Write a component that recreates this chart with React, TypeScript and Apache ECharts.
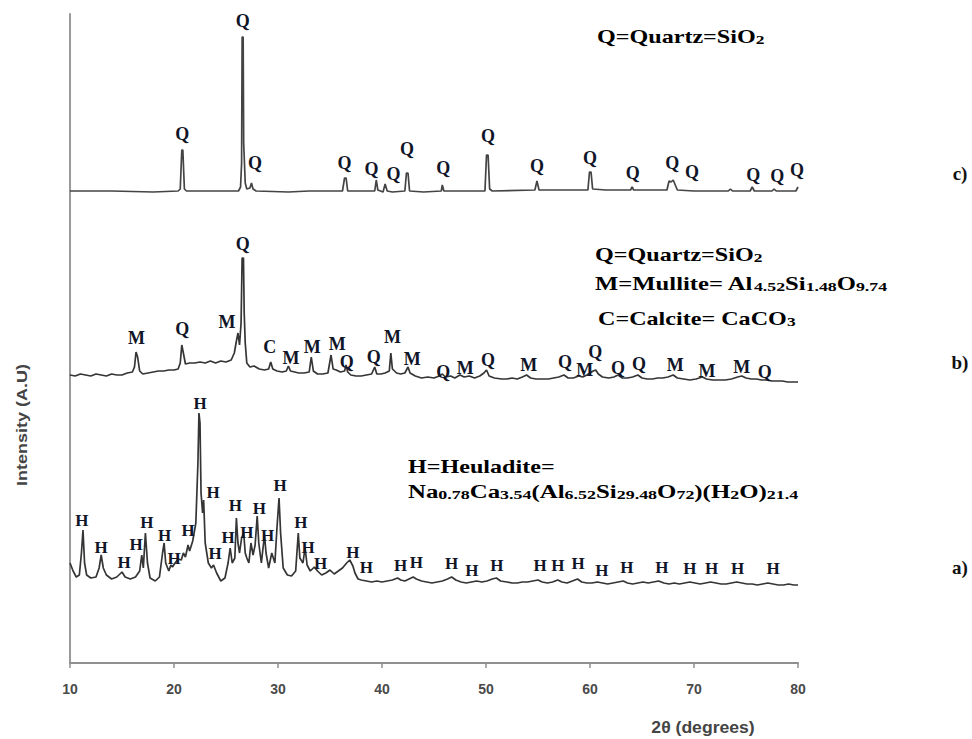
import React, { useEffect, useRef } from "react";
import * as echarts from "echarts";

// ---- data: 2θ (degrees) vs intensity (A.U., stacked with offsets as in the figure) ----
const xTicks = [10, 20, 30, 40, 50, 60, 70, 80];

// c) quartz reference pattern
const traceC: [number, number][] = [
  [10, 472], [14, 472], [18, 471], [20.4, 472], [20.6, 474], [20.75, 513], [20.85, 513], [21.0, 474], [21.2, 472],
  [24, 472], [26.2, 472], [26.4, 476], [26.5, 500], [26.55, 626], [26.65, 626], [26.7, 520], [26.85, 480], [27.0, 474],
  [27.3, 475], [27.45, 480], [27.6, 474], [27.9, 472], [31, 471], [33, 472], [36.2, 472], [36.4, 485], [36.55, 485],
  [36.7, 472], [39.3, 472], [39.45, 483], [39.6, 473], [40.1, 471], [40.3, 479], [40.5, 472], [41, 471], [42.2, 472],
  [42.35, 490], [42.5, 490], [42.65, 472], [44, 471], [45.7, 472], [45.8, 478], [45.95, 472], [48, 472], [49.9, 472],
  [50.05, 508], [50.2, 508], [50.35, 474], [50.6, 472], [54.7, 473], [54.9, 482], [55.1, 473], [56, 473], [59.8, 473],
  [59.95, 491], [60.1, 491], [60.25, 474], [61.5, 473], [63.9, 473], [64.05, 476], [64.2, 473], [67.4, 473],
  [67.6, 482], [67.8, 481], [68.0, 483], [68.2, 478], [68.4, 473], [70, 472], [73.3, 472], [73.5, 474], [73.7, 472],
  [75.4, 472], [75.6, 476], [75.8, 472], [77.5, 472], [77.7, 474], [77.9, 472], [79.8, 472], [80, 476],
];

// b) calcined sample
const traceB: [number, number][] = [
  [10, 288], [10.5, 287], [11, 289], [11.5, 288], [12, 287], [12.5, 289], [13, 288], [13.5, 287], [14, 289], [14.5, 288],
  [15, 288], [15.5, 290], [16.0, 291], [16.2, 296], [16.35, 311], [16.5, 306], [16.7, 292], [17.0, 289], [17.5, 290],
  [18, 291], [18.5, 292], [19, 292], [19.5, 293], [20, 293], [20.4, 294], [20.6, 300], [20.75, 318], [20.9, 310],
  [21.1, 299], [21.5, 300], [22, 300], [22.5, 301], [23, 300], [23.5, 302], [24, 300], [24.5, 302], [25, 301],
  [25.5, 303], [25.8, 310], [26.0, 322], [26.15, 330], [26.3, 318], [26.45, 340], [26.55, 405], [26.68, 405],
  [26.75, 350], [26.85, 320], [27.0, 300], [27.3, 296], [27.7, 297], [28.2, 294], [28.7, 293], [29.1, 294],
  [29.3, 301], [29.5, 294], [29.9, 292], [30.4, 291], [30.8, 292], [31.0, 297], [31.2, 292], [31.6, 291], [32.0, 290],
  [32.5, 290], [33.0, 291], [33.2, 306], [33.4, 292], [33.8, 289], [34.3, 289], [34.8, 290], [35.1, 308], [35.3, 294],
  [35.6, 293], [36.0, 291], [36.4, 292], [36.55, 298], [36.7, 291], [37.0, 288], [37.5, 287], [38.0, 287], [38.5, 288],
  [39.0, 289], [39.3, 296], [39.5, 289], [39.9, 289], [40.3, 290], [40.7, 292], [40.85, 310], [41.0, 294], [41.4, 290],
  [41.8, 289], [42.2, 290], [42.5, 296], [42.7, 290], [43.2, 287], [43.8, 285], [44.4, 286], [45.0, 285], [45.5, 287],
  [45.8, 289], [46.1, 286], [46.6, 287], [47.0, 285], [47.5, 288], [47.9, 286], [48.4, 287], [48.9, 285], [49.4, 287],
  [49.8, 290], [50.05, 293], [50.3, 287], [50.8, 285], [51.5, 284], [52, 284], [52.5, 285], [53, 284], [53.5, 286],
  [53.9, 288], [54.3, 285], [54.8, 284], [55.5, 284], [56, 284], [56.5, 285], [57, 286], [57.5, 288], [57.9, 285],
  [58.4, 285], [58.9, 287], [59.3, 286], [59.7, 288], [60.0, 290], [60.3, 292], [60.55, 293], [60.8, 289], [61.2, 286],
  [61.8, 285], [62.3, 286], [62.7, 288], [63.1, 285], [63.6, 285], [64.1, 286], [64.6, 288], [65.0, 285], [65.5, 284],
  [66, 284], [66.5, 285], [67, 285], [67.5, 286], [68.0, 288], [68.4, 285], [69, 284], [69.6, 283], [70.2, 284],
  [70.8, 286], [71.2, 284], [71.8, 283], [72.5, 283], [73, 283], [73.6, 284], [74.2, 286], [74.6, 287], [75.0, 285],
  [75.5, 284], [76.0, 284], [76.5, 283], [77, 283], [77.5, 282], [78, 282], [78.5, 282], [79, 281], [79.5, 281], [80, 281],
];

// a) natural zeolite (heulandite)
const traceA: [number, number][] = [
  [10, 100], [10.3, 92], [10.6, 86], [10.9, 88], [11.1, 110], [11.25, 133], [11.4, 100], [11.6, 88], [12, 85],
  [12.5, 86], [12.8, 95], [13.0, 108], [13.2, 95], [13.5, 88], [14, 84], [14.5, 86], [15.0, 91], [15.3, 86], [15.8, 84],
  [16.3, 86], [16.7, 92], [16.9, 108], [17.05, 95], [17.25, 130], [17.45, 100], [17.7, 85], [18.2, 82], [18.6, 86],
  [18.9, 110], [19.05, 120], [19.2, 100], [19.5, 92], [19.7, 98], [19.85, 96], [20.1, 100], [20.4, 104], [20.7, 103],
  [20.9, 110], [21.1, 106], [21.35, 118], [21.5, 112], [21.8, 122], [22.1, 140], [22.3, 200], [22.4, 250], [22.5, 240],
  [22.6, 170], [22.75, 150], [22.85, 163], [23.0, 120], [23.3, 100], [23.6, 95], [23.8, 98], [24.1, 90], [24.5, 82],
  [24.9, 85], [25.2, 100], [25.4, 115], [25.6, 100], [25.85, 105], [26.0, 145], [26.15, 120], [26.3, 110], [26.5, 125],
  [26.7, 130], [26.85, 110], [27.0, 105], [27.2, 100], [27.4, 120], [27.6, 108], [27.8, 118], [28.0, 147], [28.15, 120],
  [28.4, 100], [28.7, 128], [28.85, 110], [29.1, 95], [29.4, 110], [29.7, 100], [29.9, 135], [30.1, 165], [30.25, 130],
  [30.5, 95], [30.9, 88], [31.3, 87], [31.7, 92], [31.95, 130], [32.1, 105], [32.4, 100], [32.6, 115], [32.8, 98],
  [33.1, 92], [33.5, 96], [33.8, 92], [34.2, 88], [34.6, 90], [35.0, 93], [35.4, 89], [35.8, 92], [36.2, 95], [36.6, 100],
  [36.9, 103], [37.2, 97], [37.4, 90], [37.7, 84], [38.0, 83], [38.5, 82], [39, 81], [39.5, 82], [40, 81], [40.5, 82],
  [41, 83], [41.5, 85], [41.8, 83], [42.2, 82], [42.6, 84], [43.0, 86], [43.3, 84], [43.8, 82], [44.3, 81], [44.8, 80],
  [45.3, 81], [45.8, 82], [46.3, 84], [46.7, 86], [47.1, 83], [47.6, 81], [48.1, 80], [48.6, 81], [49.1, 82], [49.6, 81],
  [50.1, 82], [50.6, 84], [51.0, 85], [51.4, 82], [52, 81], [52.5, 80], [53, 80], [53.5, 81], [54, 81], [54.5, 82],
  [55, 83], [55.4, 81], [55.9, 80], [56.4, 81], [56.9, 83], [57.3, 81], [57.8, 80], [58.3, 82], [58.8, 84], [59.2, 81],
  [59.7, 80], [60.2, 80], [60.7, 81], [61.2, 80], [61.7, 79], [62.2, 80], [62.7, 81], [63.2, 82], [63.6, 80], [64.1, 79],
  [64.6, 80], [65.1, 81], [65.6, 80], [66.1, 81], [66.6, 82], [67.1, 80], [67.6, 79], [68.1, 80], [68.6, 79], [69.1, 80],
  [69.6, 81], [70.1, 80], [70.6, 79], [71.1, 80], [71.6, 81], [72.1, 80], [72.6, 79], [73.1, 79], [73.6, 80], [74.1, 81],
  [74.6, 80], [75.1, 79], [75.6, 79], [76.1, 78], [76.6, 79], [77.1, 80], [77.6, 79], [78.1, 78], [78.6, 78], [79.1, 79],
  [79.6, 78], [80, 78],
];

// phase labels: [2θ, intensity, letter]
const labelsC: [number, number, string][] = [
  [20.8, 529, "Q"], [26.6, 642, "Q"], [27.8, 500, "Q"], [36.4, 500, "Q"], [39.0, 494, "Q"], [41.1, 489, "Q"],
  [42.4, 514, "Q"], [45.9, 495, "Q"], [50.2, 527, "Q"], [54.9, 497, "Q"], [60.0, 505, "Q"], [64.1, 490, "Q"],
  [67.9, 500, "Q"], [69.8, 491, "Q"], [75.7, 488, "Q"], [78.0, 487, "Q"], [79.9, 493, "Q"],
];
const labelsB: [number, number, string][] = [
  [16.4, 325, "M"], [20.8, 334, "Q"], [25.1, 341, "M"], [26.6, 419, "Q"], [29.2, 316, "C"], [31.25, 305, "M"],
  [33.3, 316, "M"], [35.7, 319, "M"], [36.6, 301, "Q"], [39.2, 306, "Q"], [41.0, 326, "M"], [42.9, 304, "M"],
  [45.9, 291, "Q"], [48.0, 295, "M"], [50.2, 303, "Q"], [54.1, 298, "M"], [57.6, 301, "Q"], [59.5, 293, "M"],
  [60.5, 311, "Q"], [62.7, 295, "Q"], [64.7, 299, "Q"], [68.2, 298, "M"], [71.25, 292, "M"], [74.6, 296, "M"],
  [76.8, 291, "Q"],
];
const labelsA: [number, number, string][] = [
  [11.15, 143, "H"], [13.0, 116, "H"], [15.2, 101, "H"], [16.35, 119, "H"], [17.4, 141, "H"], [19.1, 128, "H"],
  [20.0, 105, "H"], [21.35, 133, "H"], [22.5, 260, "H"], [23.75, 171, "H"], [23.95, 110, "H"], [25.2, 126, "H"],
  [25.9, 158, "H"], [27.0, 131, "H"], [28.2, 155, "H"], [29.0, 128, "H"], [30.2, 178, "H"], [32.2, 141, "H"],
  [32.9, 116, "H"], [34.1, 100, "H"], [37.2, 111, "H"], [38.5, 96, "H"], [41.8, 98, "H"], [43.3, 101, "H"],
  [46.7, 100, "H"], [48.65, 93, "H"], [51.05, 98, "H"], [55.2, 98, "H"], [56.9, 98, "H"], [58.85, 100, "H"],
  [61.15, 93, "H"], [63.55, 96, "H"], [66.9, 96, "H"], [69.6, 95, "H"], [71.7, 95, "H"], [74.2, 95, "H"],
  [77.6, 95, "H"],
];

const SERIF = "'Liberation Serif', 'Times New Roman', serif";
const SANS = "'Liberation Sans Narrow', 'Liberation Sans', Arial, sans-serif";
const INK = "#101528";
const LINE = "#353535";

const lineSeries = (name: string, data: [number, number][], color: string) => ({
  name,
  type: "line",
  data,
  showSymbol: false,
  symbol: "none",
  smooth: false,
  lineStyle: { color, width: 1.7 },
  z: 2,
});

const labelSeries = (name: string, data: [number, number, string][], size: number) => ({
  name,
  type: "scatter",
  data,
  symbolSize: 1,
  itemStyle: { color: "rgba(0,0,0,0)", opacity: 1 },
  label: {
    show: true,
    position: "inside",
    formatter: (p: any) => p.value[2],
    fontFamily: SERIF,
    fontWeight: "bold",
    fontSize: size,
    color: INK,
    opacity: 1,
  },
  emphasis: { disabled: true },
  z: 5,
});

const richStyles = {
  n: { fontFamily: SERIF, fontWeight: "bold", fontSize: 18, color: INK, lineHeight: 22, verticalAlign: "bottom" },
  s: { fontFamily: SERIF, fontWeight: "bold", fontSize: 13, color: INK, lineHeight: 12, verticalAlign: "bottom" },
};

const formulaText = (x: number, y: number, text: string, sx = 1.34) => ({
  type: "text",
  x,
  y,
  scaleX: sx,
  style: { text, rich: richStyles, verticalAlign: "middle", align: "left" },
  z: 10,
});

export default function App() {
  const ref = useRef<HTMLDivElement>(null);
  useEffect(() => {
    if (!ref.current) return;
    const chart = echarts.init(ref.current, null, { renderer: "svg" });
    chart.setOption({
      animation: false,
      backgroundColor: "#ffffff",
      grid: { left: 70, right: 174, top: 14, bottom: 76 },
      xAxis: {
        type: "value",
        min: xTicks[0],
        max: xTicks[xTicks.length - 1],
        interval: 10,
        axisLine: { show: true, lineStyle: { color: "#8f8f8f", width: 2 } },
        axisTick: { show: true, inside: false, length: 5, lineStyle: { color: "#8f8f8f", width: 1.5 } },
        axisLabel: { color: "#4a4a4a", fontFamily: SANS, fontWeight: "bold", fontSize: 14, margin: 19 },
        splitLine: { show: false },
      },
      yAxis: {
        type: "value",
        min: 0,
        max: 649,
        axisLine: { show: true, lineStyle: { color: "#9a9a9a", width: 2 } },
        axisTick: { show: false },
        axisLabel: { show: false },
        splitLine: { show: false },
      },
      series: [
        lineSeries("a)", traceA, LINE),
        lineSeries("b)", traceB, LINE),
        lineSeries("c)", traceC, "#444444"),
        labelSeries("labels a", labelsA, 17),
        labelSeries("labels b", labelsB, 18),
        labelSeries("labels c", labelsC, 18),
      ],
      graphic: [
        formulaText(597, 35, "{n|Q=Quartz=SiO}{s|2}"),
        formulaText(595, 253, "{n|Q=Quartz=SiO}{s|2}"),
        formulaText(595, 282, "{n|M=Mullite= Al}{s|4.52}{n|Si}{s|1.48}{n|O}{s|9.74}", 1.37),
        formulaText(598, 317, "{n|C=Calcite= CaCO}{s|3}"),
        formulaText(408, 465, "{n|H=Heuladite=}"),
        formulaText(408, 490, "{n|Na}{s|0.78}{n|Ca}{s|3.54}{n|(Al}{s|6.52}{n|Si}{s|29.48}{n|O}{s|72}{n|)(H}{s|2}{n|O)}{s|21.4}", 1.38),
        { type: "text", x: 960, y: 173, style: { text: "c)", font: `bold 19px ${SERIF}`, fill: "#111", align: "center", verticalAlign: "middle" } },
        { type: "text", x: 960, y: 362, style: { text: "b)", font: `bold 19px ${SERIF}`, fill: "#111", align: "center", verticalAlign: "middle" } },
        { type: "text", x: 960, y: 567, style: { text: "a)", font: `bold 19px ${SERIF}`, fill: "#111", align: "center", verticalAlign: "middle" } },
        {
          type: "text",
          x: 22,
          y: 425,
          rotation: Math.PI / 2,
          scaleX: 1.2,
          style: { text: "Intensity (A.U)", font: `bold 15px ${SANS}`, fill: "#444", align: "center", verticalAlign: "middle" },
        },
        {
          type: "text",
          x: 703,
          y: 728,
          scaleX: 1.1,
          style: { text: "2θ (degrees)", font: `bold 16px ${SANS}`, fill: "#444", align: "center", verticalAlign: "middle" },
        },
      ],
    });
    return () => chart.dispose();
  }, []);
  return <div ref={ref} style={{ position: "fixed", left: 0, top: 0, width: 972, height: 739 }} />;
}
